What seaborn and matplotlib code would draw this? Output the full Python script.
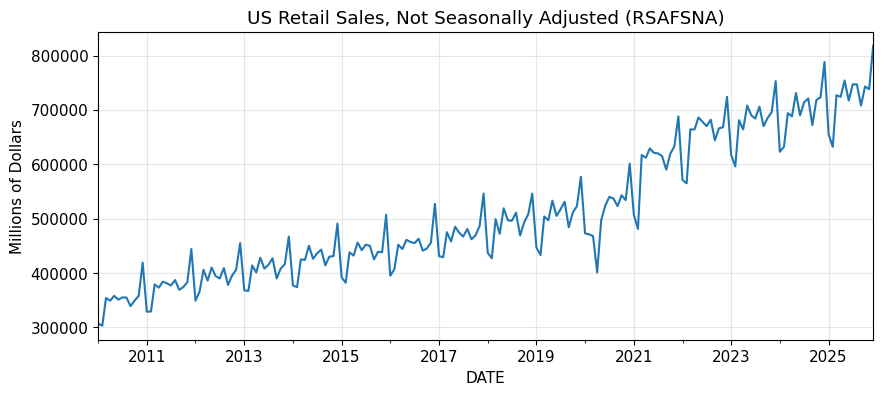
import pandas as pd
import seaborn as sns
import matplotlib.pyplot as plt
import matplotlib.dates as mdates

plt.rcParams["font.size"] = 11

# monthly values, millions of dollars
sales_2010 = [307000, 303000, 354000, 349000, 358000, 351000, 355000, 355000, 339000, 349000, 358000, 419000]
sales_2011 = [329000, 329000, 379000, 373000, 384000, 381000, 377000, 387000, 369000, 374000, 383000, 444000]
sales_2012 = [349000, 366000, 406000, 386000, 410000, 394000, 390000, 409000, 378000, 395000, 406000, 455000]
sales_2013 = [368000, 367000, 414000, 401000, 428000, 408000, 415000, 427000, 390000, 408000, 416000, 467000]
sales_2014 = [377000, 374000, 425000, 424000, 450000, 426000, 436000, 443000, 414000, 430000, 431000, 491000]
sales_2015 = [392000, 382000, 438000, 432000, 456000, 442000, 452000, 450000, 425000, 439000, 438000, 507000]
sales_2016 = [395000, 407000, 452000, 444000, 461000, 457000, 455000, 463000, 441000, 445000, 456000, 527000]
sales_2017 = [431000, 429000, 475000, 458000, 485000, 474000, 467000, 481000, 462000, 469000, 486000, 546000]
sales_2018 = [437000, 427000, 499000, 472000, 519000, 497000, 496000, 511000, 469000, 493000, 508000, 546000]
sales_2019 = [447000, 433000, 504000, 497000, 533000, 505000, 517000, 531000, 484000, 511000, 523000, 577000]
sales_2020 = [473000, 471000, 468000, 401000, 497000, 524000, 540000, 537000, 523000, 543000, 534000, 601000]
sales_2021 = [507000, 481000, 617000, 612000, 629000, 621000, 620000, 615000, 590000, 619000, 633000, 688000]
sales_2022 = [571000, 565000, 664000, 664000, 686000, 678000, 670000, 682000, 644000, 666000, 668000, 724000]
sales_2023 = [617000, 596000, 681000, 664000, 708000, 690000, 684000, 706000, 670000, 685000, 696000, 753000]
sales_2024 = [623000, 632000, 694000, 688000, 731000, 690000, 714000, 721000, 672000, 718000, 723000, 788000]
sales_2025 = [655000, 632000, 727000, 724000, 754000, 717000, 747000, 747000, 708000, 743000, 738000, 818000]

sales = (sales_2010 + sales_2011 + sales_2012 + sales_2013 + sales_2014 + sales_2015
         + sales_2016 + sales_2017 + sales_2018 + sales_2019 + sales_2020 + sales_2021
         + sales_2022 + sales_2023 + sales_2024 + sales_2025)
dates = pd.date_range("2010-01-01", periods=len(sales), freq="MS")
df = pd.DataFrame({"DATE": dates, "RSAFSNA": sales})

fig, ax = plt.subplots(figsize=(10, 4))
sns.lineplot(data=df, x="DATE", y="RSAFSNA", ax=ax, color="#1f77b4", linewidth=1.5)

ax.set_xlim(dates[0], dates[-1])
ax.set_xticks(pd.date_range("2011-01-01", "2025-01-01", freq="2YS"))
ax.xaxis.set_major_formatter(mdates.DateFormatter("%Y"))
ax.xaxis.set_minor_locator(mdates.YearLocator(1))
ax.ticklabel_format(axis="y", style="plain")
ax.grid(True, alpha=0.3)

ax.set_title("US Retail Sales, Not Seasonally Adjusted (RSAFSNA)")
ax.set_xlabel("DATE")
ax.set_ylabel("Millions of Dollars")

plt.savefig("out.png", dpi=100, bbox_inches="tight")
